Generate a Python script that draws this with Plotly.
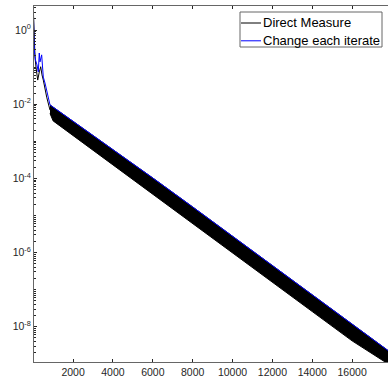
import plotly.graph_objects as go

# ---- data (log10 values) ----
# "Change each iterate" (blue)
blue_iter = [1, 55, 115, 190, 256, 305, 340, 425, 507, 592, 843,
             1000, 2000, 4000, 6000, 8000, 10000, 12000, 14000, 16000, 17800]
blue_log = [0.64, -0.54, -0.81, -0.94, -1.13, -0.62, -0.86, -0.67, -1.27, -1.43, -2.02,
            -2.08, -2.44, -3.21, -3.99, -4.77, -5.56, -6.35, -7.14, -7.93, -8.64]

# "Direct Measure" (black) – early transient
black_iter = [1, 60, 90, 140, 226, 306, 376, 441, 507, 677, 843]
black_log = [0.64, -0.50, -0.73, -1.00, -1.35, -1.13, -0.99, -1.21, -1.35, -1.81, -2.16]

# "Direct Measure" (black) – dense oscillation band: upper / lower envelope
band_iter = [843, 1000, 1300, 2000, 4000, 6000, 8000, 10000, 12000, 14000, 16000, 17800]
band_upper_log = [-2.02, -2.08, -2.19, -2.44, -3.21, -3.99, -4.77, -5.56, -6.35, -7.14, -7.93, -8.64]
band_lower_log = [-2.25, -2.45, -2.58, -2.86, -3.64, -4.44, -5.22, -6.01, -6.80, -7.59, -8.38, -9.00]

series_names = ["Direct Measure", "Change each iterate"]
series_colors = ["black", "#0000ff"]

x_tick_vals = [2000, 4000, 6000, 8000, 10000, 12000, 14000, 16000]
y_tick_exps = [0, -2, -4, -6, -8]

blue_val = [10 ** v for v in blue_log]
black_val = [10 ** v for v in black_log]
band_x = band_iter + band_iter[::-1]
band_y = [10 ** v for v in band_upper_log] + [10 ** v for v in band_lower_log][::-1]

FONT = "Liberation Sans, Arial, sans-serif"
AX = "#262626"

fig = go.Figure()
fig.add_trace(go.Scatter(x=band_x, y=band_y, mode="lines", fill="toself",
                         fillcolor="black", line=dict(color="black", width=1),
                         showlegend=False, hoverinfo="skip"))
fig.add_trace(go.Scatter(x=black_iter, y=black_val, mode="lines",
                         line=dict(color=series_colors[0], width=1),
                         name=series_names[0], showlegend=False))
fig.add_trace(go.Scatter(x=blue_iter, y=blue_val, mode="lines",
                         line=dict(color=series_colors[1], width=1),
                         name=series_names[1], showlegend=False))

minor_vals = []
for e in range(-10, 2):
    for k in range(1, 10):
        if k == 1 and e in y_tick_exps:
            continue
        minor_vals.append(k * 10.0 ** e)

# ---- MATLAB-style legend box (pixel layout -> paper coords) ----
L, T, W, H = 34, 6, 354, 356
def px(x):
    return (x - L) / W
def py(y):
    return 1 - (y - T) / H

shapes = [dict(type="rect", xref="paper", yref="paper",
               x0=px(240), x1=px(382), y0=py(47), y1=py(12),
               line=dict(color="#666666", width=1), fillcolor="white", layer="above")]
annotations = []
for i, (nm, col) in enumerate(zip(series_names, series_colors)):
    yy = py(23 + 17.8 * i)
    shapes.append(dict(type="line", xref="paper", yref="paper",
                       x0=px(241), x1=px(261), y0=yy, y1=yy,
                       line=dict(color=col, width=1), layer="above"))
    annotations.append(dict(xref="paper", yref="paper", x=px(262), y=yy,
                            xanchor="left", yanchor="middle", showarrow=False,
                            borderpad=0, text=nm,
                            font=dict(family=FONT, size=13, color="black")))

fig.update_layout(
    width=388, height=381,
    margin=dict(l=L, r=0, t=T, b=19),
    paper_bgcolor="white", plot_bgcolor="white",
    font=dict(family=FONT, size=10.5, color=AX),
    showlegend=False,
    shapes=shapes, annotations=annotations,
    xaxis=dict(range=[40, 17800], showgrid=False, zeroline=False,
               showline=True, linecolor="#666666", linewidth=1, mirror="ticks",
               ticks="inside", ticklen=3, tickcolor=AX,
               tickmode="array", tickvals=x_tick_vals,
               ticktext=[str(v) for v in x_tick_vals]),
    yaxis=dict(type="log", range=[-8.95, 0.647], showgrid=False, zeroline=False,
               showline=True, linecolor="#666666", linewidth=1,
               ticks="inside", ticklen=3, tickcolor=AX,
               tickmode="array", tickvals=[10.0 ** e for e in y_tick_exps],
               ticktext=["10<sup>%d</sup>" % e for e in y_tick_exps],
               minor=dict(ticks="inside", ticklen=2, tickcolor=AX,
                          tickmode="array", tickvals=minor_vals, showgrid=False)),
)

fig.write_html("out.html")
